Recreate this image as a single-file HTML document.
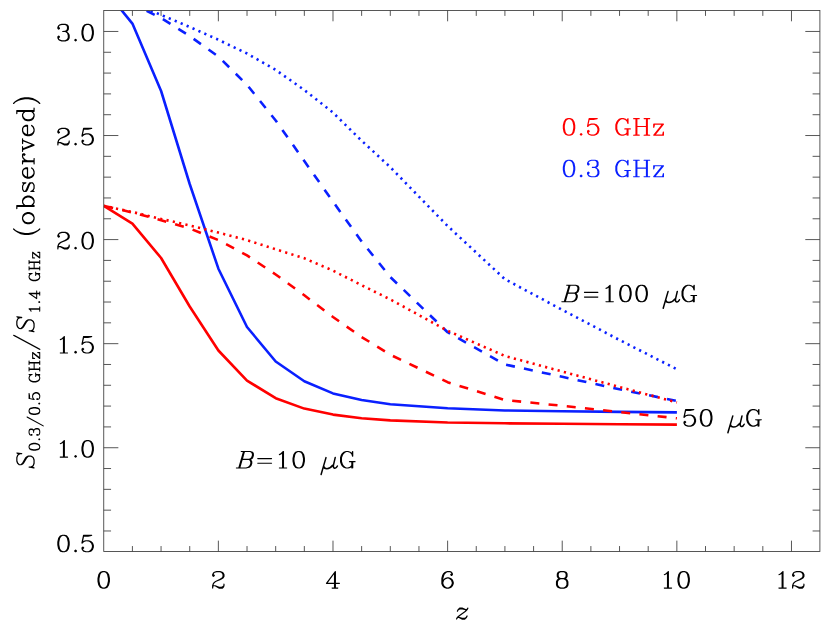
<!DOCTYPE html>
<html><head><meta charset="utf-8"><title>plot</title>
<style>html,body{margin:0;padding:0;background:#fff;}svg{display:block;}</style></head><body>
<svg width="830" height="629" viewBox="0 0 830 629">
<rect width="830" height="629" fill="#fff"/>
<defs><clipPath id="c"><rect x="103.75" y="10.5" width="716.15" height="540.95"/></clipPath></defs>
<g clip-path="url(#c)" fill="none" stroke-linejoin="round">
<path d="M103.8,-11.6 L132.4,23.6 L161.1,91.0 L189.7,184.0 L218.4,268.7 L247.0,327.0 L275.7,361.5 L304.3,381.3 L333.0,393.4 L361.6,400.0 L390.3,404.2 L447.6,408.3 L504.9,410.5 L562.2,411.3 L619.5,411.9 L676.9,412.4" stroke="#0a20ff" stroke-width="2.6"/>
<path d="M103.8,205.8 L132.4,223.6 L161.1,258.0 L189.7,306.5 L218.4,350.5 L247.0,380.6 L275.7,398.2 L304.3,408.6 L333.0,414.6 L361.6,418.2 L390.3,420.4 L447.6,422.5 L504.9,423.3 L562.2,423.8 L619.5,424.2 L676.9,424.6" stroke="#ff0000" stroke-width="2.6"/>
<path d="M103.8,-11.6 L132.4,3.8 L161.1,18.0 L189.7,36.1 L218.4,56.6 L247.0,84.8 L275.7,120.5 L304.3,161.0 L333.0,201.7 L361.6,241.4 L390.3,277.0 L447.6,332.2 L504.9,364.5 L562.2,376.8 L619.5,389.3 L676.9,401.0" stroke="#0a20ff" stroke-width="2.6" stroke-dasharray="9 9.28" stroke-dashoffset="6.5"/>
<path d="M103.8,205.8 L132.4,212.5 L161.1,220.2 L189.7,228.5 L218.4,240.1 L247.0,255.4 L275.7,274.5 L304.3,295.3 L333.0,317.0 L361.6,337.0 L390.3,354.7 L447.6,382.2 L504.9,400.0 L562.2,405.8 L619.5,412.0 L676.9,418.3" stroke="#ff0000" stroke-width="2.6" stroke-dasharray="9 9.28" stroke-dashoffset="17.7"/>
<path d="M103.8,-11.6 L132.4,3.3 L161.1,14.9 L189.7,27.0 L218.4,39.8 L247.0,53.5 L275.7,69.9 L304.3,90.0 L333.0,112.6 L361.6,140.7 L390.3,167.2 L447.6,226.0 L504.9,279.2 L562.2,309.8 L619.5,340.0 L676.9,369.3" stroke="#0a20ff" stroke-width="2.6" stroke-dasharray="2.2 4.263" stroke-dashoffset="6.06"/>
<path d="M103.8,205.8 L132.4,212.0 L161.1,218.9 L189.7,225.5 L218.4,232.6 L247.0,240.1 L275.7,249.3 L304.3,258.3 L333.0,270.6 L361.6,285.2 L390.3,299.4 L447.6,330.8 L504.9,356.0 L562.2,371.5 L619.5,387.0 L676.9,402.4" stroke="#ff0000" stroke-width="2.6" stroke-dasharray="2.2 4.277" stroke-dashoffset="0.5"/>
</g>
<g stroke="#3a3a3a" stroke-width="0.85" fill="none">
<rect x="103.75" y="10.5" width="716.15" height="540.95"/>
<path d="M132.41,551.45 v-5.4 M132.41,10.5 v5.4 M161.06,551.45 v-5.4 M161.06,10.5 v5.4 M189.72,551.45 v-5.4 M189.72,10.5 v5.4 M218.37,551.45 v-10.8 M218.37,10.5 v10.8 M247.03,551.45 v-5.4 M247.03,10.5 v5.4 M275.68,551.45 v-5.4 M275.68,10.5 v5.4 M304.34,551.45 v-5.4 M304.34,10.5 v5.4 M332.99,551.45 v-10.8 M332.99,10.5 v10.8 M361.64,551.45 v-5.4 M361.64,10.5 v5.4 M390.30,551.45 v-5.4 M390.30,10.5 v5.4 M418.96,551.45 v-5.4 M418.96,10.5 v5.4 M447.61,551.45 v-10.8 M447.61,10.5 v10.8 M476.26,551.45 v-5.4 M476.26,10.5 v5.4 M504.92,551.45 v-5.4 M504.92,10.5 v5.4 M533.58,551.45 v-5.4 M533.58,10.5 v5.4 M562.23,551.45 v-10.8 M562.23,10.5 v10.8 M590.88,551.45 v-5.4 M590.88,10.5 v5.4 M619.54,551.45 v-5.4 M619.54,10.5 v5.4 M648.20,551.45 v-5.4 M648.20,10.5 v5.4 M676.85,551.45 v-10.8 M676.85,10.5 v10.8 M705.50,551.45 v-5.4 M705.50,10.5 v5.4 M734.16,551.45 v-5.4 M734.16,10.5 v5.4 M762.82,551.45 v-5.4 M762.82,10.5 v5.4 M791.47,551.45 v-10.8 M791.47,10.5 v10.8 M103.75,530.97 h7.3 M819.9,530.97 h-7.3 M103.75,510.16 h7.3 M819.9,510.16 h-7.3 M103.75,489.35 h7.3 M819.9,489.35 h-7.3 M103.75,468.53 h7.3 M819.9,468.53 h-7.3 M103.75,447.72 h14.6 M819.9,447.72 h-14.6 M103.75,426.91 h7.3 M819.9,426.91 h-7.3 M103.75,406.09 h7.3 M819.9,406.09 h-7.3 M103.75,385.28 h7.3 M819.9,385.28 h-7.3 M103.75,364.47 h7.3 M819.9,364.47 h-7.3 M103.75,343.66 h14.6 M819.9,343.66 h-14.6 M103.75,322.84 h7.3 M819.9,322.84 h-7.3 M103.75,302.03 h7.3 M819.9,302.03 h-7.3 M103.75,281.22 h7.3 M819.9,281.22 h-7.3 M103.75,260.40 h7.3 M819.9,260.40 h-7.3 M103.75,239.59 h14.6 M819.9,239.59 h-14.6 M103.75,218.78 h7.3 M819.9,218.78 h-7.3 M103.75,197.96 h7.3 M819.9,197.96 h-7.3 M103.75,177.15 h7.3 M819.9,177.15 h-7.3 M103.75,156.34 h7.3 M819.9,156.34 h-7.3 M103.75,135.52 h14.6 M819.9,135.52 h-14.6 M103.75,114.71 h7.3 M819.9,114.71 h-7.3 M103.75,93.90 h7.3 M819.9,93.90 h-7.3 M103.75,73.09 h7.3 M819.9,73.09 h-7.3 M103.75,52.27 h7.3 M819.9,52.27 h-7.3 M103.75,31.46 h14.6 M819.9,31.46 h-14.6"/>
</g>
<path fill="#000" transform="translate(57.27,40.84) scale(0.10063,0.09825)" d="M183 -22l-6 2l-8 8l-1 4l1 4l8 8l5 2l5 -2l8 -8l1 -4l-1 -4l-8 -8zM291 -174l-23 8l-5 5l-14 21l-9 40l0 32l7 35l2 5l14 21l7 6l21 7l22 0l23 -8l5 -5l14 -21l9 -40l0 -32l-7 -35l-2 -5l-14 -21l-7 -6l-21 -7zM296 -162l15 1l11 6l7 7l7 13l8 39l0 24l-8 39l-7 13l-7 7l-14 7l-15 -1l-11 -6l-7 -7l-7 -13l-8 -39l0 -24l8 -39l7 -13l7 -7zM43 -174l-23 8l-11 10l-9 17l1 1l-1 2l1 12l8 8l5 2l5 -2l8 -8l1 -4l-1 -4l-11 -10l3 -6l7 -7l21 -7l29 0l11 5l4 4l5 11l0 20l-5 11l-4 4l-11 5l-25 1l-3 5l1 3l4 3l26 1l11 6l7 7l7 21l0 21l-7 14l-7 7l-14 7l-29 0l-21 -7l-7 -7l-3 -6l11 -10l1 -4l-1 -4l-8 -8l-5 -2l-5 2l-8 8l-1 4l1 10l-1 1l9 17l8 8l5 3l21 7l38 0l21 -7l5 -3l8 -8l9 -17l-1 -1l1 -1l0 -26l-1 -1l1 -1l-9 -17l-19 -18l1 -2l7 -2l4 -4l8 -15l-1 -1l1 -1l0 -26l-1 -1l1 -1l-8 -15l-6 -5l-21 -7z"/>
<path fill="#000" transform="translate(57.27,144.90) scale(0.10063,0.09825)" d="M183 -22l-6 2l-8 8l-1 4l1 4l8 8l5 2l5 -2l8 -8l1 -4l-1 -4l-8 -8zM261 -174l-5 4l-16 78l1 7l6 3l4 -2l15 -15l21 -7l24 1l11 6l15 15l7 21l0 14l-7 21l-15 15l-14 7l-21 0l-21 -7l-7 -7l-3 -6l11 -10l1 -4l-1 -4l-10 -9l-3 -1l-5 2l-8 8l-1 4l1 10l-1 1l9 17l8 8l5 3l21 7l30 0l21 -7l5 -3l16 -16l9 -25l0 -22l-9 -25l-19 -18l-23 -8l-30 0l-21 7l-4 3l-1 -5l9 -41l40 0l35 -7l6 -4l1 -5l-5 -4zM22 -167l-5 3l-8 8l-9 17l1 1l-1 2l1 12l8 8l5 2l3 -1l10 -9l1 -4l-1 -4l-11 -10l3 -6l7 -7l21 -7l29 0l14 7l7 7l6 11l1 15l-5 11l-6 6l-20 13l-45 22l-19 18l-9 25l0 28l3 4l3 1l3 -1l3 -4l0 -14l5 -5l11 0l41 24l34 0l4 -2l8 -8l9 -17l0 -20l-3 -4l-3 -1l-5 3l-1 16l-9 8l-11 5l-21 0l-38 -16l-17 0l-1 -2l4 -12l15 -15l13 -7l39 -15l25 -16l5 -5l8 -15l-1 -1l1 -1l0 -18l-1 -1l1 -1l-9 -17l-8 -8l-5 -3l-21 -7l-38 0z"/>
<path fill="#000" transform="translate(57.27,248.97) scale(0.10063,0.09825)" d="M183 -22l-6 2l-8 8l-1 4l1 4l8 8l5 2l5 -2l8 -8l1 -4l-1 -4l-8 -8zM291 -174l-23 8l-5 5l-14 21l-9 40l0 32l7 35l2 5l14 21l7 6l21 7l22 0l23 -8l5 -5l14 -21l9 -40l0 -32l-7 -35l-2 -5l-14 -21l-7 -6l-21 -7zM296 -162l15 1l11 6l7 7l7 13l8 39l0 24l-8 39l-7 13l-7 7l-14 7l-15 -1l-11 -6l-7 -7l-7 -13l-8 -39l0 -24l8 -39l7 -13l7 -7zM22 -167l-5 3l-8 8l-9 17l1 1l-1 2l1 12l8 8l5 2l3 -1l10 -9l1 -4l-1 -4l-11 -10l3 -6l7 -7l21 -7l29 0l14 7l7 7l6 11l1 15l-5 11l-6 6l-20 13l-45 22l-19 18l-9 25l0 28l3 4l3 1l3 -1l3 -4l0 -14l5 -5l11 0l41 24l34 0l4 -2l8 -8l9 -17l0 -20l-3 -4l-3 -1l-5 3l-1 16l-9 8l-11 5l-21 0l-38 -16l-17 0l-1 -2l4 -12l15 -15l13 -7l39 -15l25 -16l5 -5l8 -15l-1 -1l1 -1l0 -18l-1 -1l1 -1l-9 -17l-8 -8l-5 -3l-21 -7l-38 0z"/>
<path fill="#000" transform="translate(59.69,353.03) scale(0.10063,0.09825)" d="M159 -22l-6 2l-8 8l-1 4l1 4l8 8l5 2l5 -2l8 -8l1 -4l-1 -4l-8 -8zM237 -174l-5 4l-16 78l1 7l6 3l4 -2l15 -15l21 -7l24 1l11 6l15 15l7 21l0 14l-7 21l-15 15l-14 7l-21 0l-21 -7l-7 -7l-3 -6l11 -10l1 -4l-1 -4l-10 -9l-3 -1l-5 2l-8 8l-1 4l1 10l-1 1l9 17l8 8l5 3l21 7l30 0l21 -7l5 -3l16 -16l9 -25l0 -22l-9 -25l-19 -18l-23 -8l-30 0l-21 7l-4 3l-1 -5l9 -41l40 0l35 -7l6 -4l1 -5l-5 -4zM46 -174l-5 2l-23 23l-14 7l-4 6l1 3l5 3l18 -8l7 -6l1 1l0 136l-1 1l-28 1l-3 5l1 3l4 3l74 0l4 -3l1 -3l-1 -3l-4 -3l-26 0l-1 -1l0 -162l-3 -4z"/>
<path fill="#000" transform="translate(59.69,457.10) scale(0.10063,0.09825)" d="M159 -22l-6 2l-8 8l-1 4l1 4l8 8l5 2l5 -2l8 -8l1 -4l-1 -4l-8 -8zM267 -174l-23 8l-5 5l-14 21l-9 40l0 32l7 35l2 5l14 21l7 6l21 7l22 0l23 -8l5 -5l14 -21l9 -40l0 -32l-7 -35l-2 -5l-14 -21l-7 -6l-21 -7zM272 -162l15 1l11 6l7 7l7 13l8 39l0 24l-8 39l-7 13l-7 7l-14 7l-15 -1l-11 -6l-7 -7l-7 -13l-8 -39l0 -24l8 -39l7 -13l7 -7zM46 -174l-5 2l-23 23l-14 7l-4 6l1 3l5 3l18 -8l7 -6l1 1l0 136l-1 1l-28 1l-3 5l1 3l4 3l74 0l4 -3l1 -3l-1 -3l-4 -3l-26 0l-1 -1l0 -162l-3 -4z"/>
<path fill="#000" transform="translate(57.27,551.78) scale(0.10063,0.09825)" d="M183 -22l-6 2l-8 8l-1 4l1 4l8 8l5 2l5 -2l8 -8l1 -4l-1 -4l-8 -8zM261 -174l-5 4l-16 78l1 7l6 3l4 -2l15 -15l21 -7l24 1l11 6l15 15l7 21l0 14l-7 21l-15 15l-14 7l-21 0l-21 -7l-7 -7l-3 -6l11 -10l1 -4l-1 -4l-10 -9l-3 -1l-5 2l-8 8l-1 4l1 10l-1 1l9 17l8 8l5 3l21 7l30 0l21 -7l5 -3l16 -16l9 -25l0 -22l-9 -25l-19 -18l-23 -8l-30 0l-21 7l-4 3l-1 -5l9 -41l40 0l35 -7l6 -4l1 -5l-5 -4zM51 -174l-23 8l-5 5l-14 21l-9 40l0 32l7 35l2 5l14 21l7 6l21 7l22 0l23 -8l5 -5l14 -21l9 -40l0 -32l-7 -35l-2 -5l-14 -21l-7 -6l-21 -7zM56 -162l15 1l11 6l7 7l7 13l8 39l0 24l-8 39l-7 13l-7 7l-14 7l-15 -1l-11 -6l-7 -7l-7 -13l-8 -39l0 -24l8 -39l7 -13l7 -7z"/>
<path fill="#000" transform="translate(97.46,588.08) scale(0.10063,0.09825)" d="M51 -174l-23 8l-5 5l-14 21l-9 40l0 32l7 35l2 5l14 21l7 6l21 7l22 0l23 -8l5 -5l14 -21l9 -40l0 -32l-7 -35l-2 -5l-14 -21l-7 -6l-21 -7zM56 -162l15 1l11 6l7 7l7 13l8 39l0 24l-8 39l-7 13l-7 7l-14 7l-15 -1l-11 -6l-7 -7l-7 -13l-8 -39l0 -24l8 -39l7 -13l7 -7z"/>
<path fill="#000" transform="translate(212.08,588.08) scale(0.10063,0.09825)" d="M22 -167l-5 3l-8 8l-9 17l1 1l-1 2l1 12l8 8l5 2l3 -1l10 -9l1 -4l-1 -4l-11 -10l3 -6l7 -7l21 -7l29 0l14 7l7 7l6 11l1 15l-5 11l-6 6l-20 13l-45 22l-19 18l-9 25l0 28l3 4l3 1l3 -1l3 -4l0 -14l5 -5l11 0l41 24l34 0l4 -2l8 -8l9 -17l0 -20l-3 -4l-3 -1l-5 3l-1 16l-9 8l-11 5l-21 0l-38 -16l-17 0l-1 -2l4 -12l15 -15l13 -7l39 -15l25 -16l5 -5l8 -15l-1 -1l1 -1l0 -18l-1 -1l1 -1l-9 -17l-8 -8l-5 -3l-21 -7l-38 0z"/>
<path fill="#000" transform="translate(325.90,588.08) scale(0.10063,0.09825)" d="M95 -174l-6 2l-86 117l-3 7l1 3l4 3l74 0l1 1l0 34l-1 1l-20 1l-3 5l1 3l4 3l58 0l2 -1l3 -5l-3 -5l-20 -1l-1 -1l0 -34l1 -1l34 0l4 -3l1 -3l-1 -3l-4 -3l-34 0l-1 -1l0 -115zM79 -137l1 1l0 81l-1 1l-59 0l-1 -1z"/>
<path fill="#000" transform="translate(441.32,588.08) scale(0.10063,0.09825)" d="M87 -174l-28 0l-21 7l-5 3l-16 16l-9 17l-8 32l0 54l9 25l16 16l5 3l21 7l22 0l21 -7l5 -3l16 -16l9 -25l0 -14l-9 -25l-16 -16l-5 -3l-21 -7l-14 0l-23 8l-15 14l-1 -1l0 -7l7 -28l6 -13l17 -18l11 -6l23 -1l11 5l4 4l1 3l-11 10l-1 4l1 4l8 8l5 2l3 -1l10 -9l1 -13l-8 -17l-4 -4zM63 -98l5 0l11 5l18 17l7 21l0 6l-7 21l-15 15l-14 7l-12 0l-14 -7l-15 -15l-7 -21l0 -6l7 -21l15 -15z"/>
<path fill="#000" transform="translate(555.94,588.08) scale(0.10063,0.09825)" d="M43 -174l-23 8l-4 4l-8 15l1 1l-1 2l0 25l8 17l4 4l5 2l-8 4l-8 8l-9 17l1 1l-1 2l0 33l9 19l8 8l5 3l21 7l38 0l21 -7l5 -3l8 -8l9 -17l-1 -1l1 -1l0 -34l-9 -19l-8 -8l-8 -4l5 -2l4 -4l8 -15l-1 -1l1 -1l0 -26l-8 -17l-6 -5l-21 -7zM48 -90l28 0l14 7l7 7l7 14l0 28l-7 14l-7 7l-14 7l-28 0l-14 -7l-7 -7l-7 -14l0 -28l7 -14l7 -7zM33 -153l4 -4l11 -5l28 0l11 5l4 4l5 11l0 20l-5 11l-4 4l-11 5l-28 0l-11 -5l-4 -4l-5 -11l0 -20z"/>
<path fill="#000" transform="translate(663.72,588.08) scale(0.10063,0.09825)" d="M187 -174l-23 8l-5 5l-14 21l-9 40l0 32l7 35l2 5l14 21l7 6l21 7l22 0l23 -8l5 -5l14 -21l9 -40l0 -32l-7 -35l-2 -5l-14 -21l-7 -6l-21 -7zM192 -162l15 1l11 6l7 7l7 13l8 39l0 24l-8 39l-7 13l-7 7l-14 7l-15 -1l-11 -6l-7 -7l-7 -13l-8 -39l0 -24l8 -39l7 -13l7 -7zM46 -174l-5 2l-23 23l-14 7l-4 6l1 3l5 3l18 -8l7 -6l1 1l0 136l-1 1l-28 1l-3 5l1 3l4 3l74 0l4 -3l1 -3l-1 -3l-4 -3l-26 0l-1 -1l0 -162l-3 -4z"/>
<path fill="#000" transform="translate(778.34,588.08) scale(0.10063,0.09825)" d="M158 -167l-5 3l-8 8l-9 17l1 1l-1 2l1 12l8 8l5 2l3 -1l10 -9l1 -4l-1 -4l-11 -10l3 -6l7 -7l21 -7l29 0l14 7l7 7l6 11l1 15l-5 11l-6 6l-20 13l-45 22l-19 18l-9 25l0 28l3 4l3 1l3 -1l3 -4l0 -14l5 -5l11 0l41 24l34 0l4 -2l8 -8l9 -17l0 -20l-3 -4l-3 -1l-5 3l-1 16l-9 8l-11 5l-21 0l-38 -16l-17 0l-1 -2l4 -12l15 -15l13 -7l39 -15l25 -16l5 -5l8 -15l-1 -1l1 -1l0 -18l-1 -1l1 -1l-9 -17l-8 -8l-5 -3l-21 -7l-38 0zM46 -174l-5 2l-23 23l-14 7l-4 6l1 3l5 3l18 -8l7 -6l1 1l0 136l-1 1l-28 1l-3 5l1 3l4 3l74 0l4 -3l1 -3l-1 -3l-4 -3l-26 0l-1 -1l0 -162l-3 -4z"/>
<path fill="#000" transform="translate(456.00,619.08) scale(0.10063,0.09825)" d="M35 -117l-18 17l-9 17l1 6l2 2l3 1l3 -1l3 -3l5 -11l4 -4l11 -5l22 0l32 9l-6 6l-62 46l-17 17l-9 17l1 6l5 3l3 -1l10 -15l9 0l33 16l26 0l4 -2l16 -16l9 -17l-1 -6l-2 -2l-3 -1l-3 1l-3 3l-5 11l-4 4l-11 5l-22 0l-32 -9l6 -6l62 -46l17 -17l9 -17l-1 -6l-5 -3l-3 1l-10 15l-9 0l-33 -16z"/>
<path fill="#ff0000" transform="translate(562.80,135.18) scale(0.10063,0.09825)" d="M183 -22l-6 2l-8 8l-1 4l1 4l8 8l5 2l5 -2l8 -8l1 -4l-1 -4l-8 -8zM261 -174l-5 4l-16 78l1 7l6 3l4 -2l15 -15l21 -7l24 1l11 6l15 15l7 21l0 14l-7 21l-15 15l-14 7l-21 0l-21 -7l-7 -7l-3 -6l11 -10l1 -4l-1 -4l-10 -9l-3 -1l-5 2l-8 8l-1 4l1 10l-1 1l9 17l8 8l5 3l21 7l30 0l21 -7l5 -3l16 -16l9 -25l0 -22l-9 -25l-19 -18l-23 -8l-30 0l-21 7l-4 3l-1 -5l9 -41l40 0l35 -7l6 -4l1 -5l-5 -4zM51 -174l-23 8l-5 5l-14 21l-9 40l0 32l7 35l2 5l14 21l7 6l21 7l22 0l23 -8l5 -5l14 -21l9 -40l0 -32l-7 -35l-2 -5l-14 -21l-7 -6l-21 -7zM56 -162l15 1l11 6l7 7l7 13l8 39l0 24l-8 39l-7 13l-7 7l-14 7l-15 -1l-11 -6l-7 -7l-7 -13l-8 -39l0 -24l8 -39l7 -13l7 -7z"/>
<path fill="#ff0000" transform="translate(615.30,135.18) scale(0.10063,0.09825)" d="M379 -117l-3 5l0 33l3 4l3 1l6 -4l6 -26l2 -2l59 0l1 2l-80 102l1 5l4 3l98 0l2 -1l3 -4l0 -34l-3 -4l-3 -1l-6 4l-6 26l-2 2l-59 0l-1 -2l79 -100l1 -6l-5 -4l-97 0zM179 -173l-3 5l3 5l20 1l1 1l0 154l-1 1l-20 1l-3 5l1 3l4 3l58 0l4 -3l1 -3l-1 -3l-4 -3l-18 0l-1 -1l0 -74l1 -1l82 0l1 1l0 74l-1 1l-20 1l-3 5l1 3l4 3l58 0l2 -1l3 -5l-3 -5l-20 -1l-1 -1l0 -154l1 -1l18 0l4 -3l1 -3l-1 -3l-4 -3l-57 0l-5 3l-1 3l1 3l4 3l18 0l1 1l0 66l-1 1l-82 0l-1 -1l0 -66l1 -1l18 0l4 -3l1 -3l-1 -3l-4 -3l-57 0zM36 -166l-19 18l-9 17l-8 24l0 46l8 24l9 17l19 18l23 8l22 0l21 -7l9 -7l1 9l3 4l3 1l4 -2l4 2l3 -1l3 -4l0 -58l1 -1l20 -1l3 -5l-3 -5l-2 -1l-57 0l-3 1l-3 5l3 5l20 1l1 1l0 30l-14 14l-21 7l-13 0l-14 -7l-15 -15l-7 -13l-8 -24l0 -38l8 -24l7 -13l15 -15l14 -7l13 0l21 7l15 15l7 22l3 3l3 1l3 -1l3 -4l0 -50l-1 -2l-5 -3l-3 1l-4 5l-4 12l-11 -10l-23 -8l-22 0z"/>
<path fill="#0a20ff" transform="translate(562.80,176.78) scale(0.10063,0.09825)" d="M183 -22l-6 2l-8 8l-1 4l1 4l8 8l5 2l5 -2l8 -8l1 -4l-1 -4l-8 -8zM283 -174l-23 8l-11 10l-9 17l1 1l-1 2l1 12l8 8l5 2l5 -2l8 -8l1 -4l-1 -4l-11 -10l3 -6l7 -7l21 -7l29 0l11 5l4 4l5 11l0 20l-5 11l-4 4l-11 5l-25 1l-3 5l1 3l4 3l26 1l11 6l7 7l7 21l0 21l-7 14l-7 7l-14 7l-29 0l-21 -7l-7 -7l-3 -6l11 -10l1 -4l-1 -4l-8 -8l-5 -2l-5 2l-8 8l-1 4l1 10l-1 1l9 17l8 8l5 3l21 7l38 0l21 -7l5 -3l8 -8l9 -17l-1 -1l1 -1l0 -26l-1 -1l1 -1l-9 -17l-19 -18l1 -2l7 -2l4 -4l8 -15l-1 -1l1 -1l0 -26l-1 -1l1 -1l-8 -15l-6 -5l-21 -7zM51 -174l-23 8l-5 5l-14 21l-9 40l0 32l7 35l2 5l14 21l7 6l21 7l22 0l23 -8l5 -5l14 -21l9 -40l0 -32l-7 -35l-2 -5l-14 -21l-7 -6l-21 -7zM56 -162l15 1l11 6l7 7l7 13l8 39l0 24l-8 39l-7 13l-7 7l-14 7l-15 -1l-11 -6l-7 -7l-7 -13l-8 -39l0 -24l8 -39l7 -13l7 -7z"/>
<path fill="#0a20ff" transform="translate(615.30,176.78) scale(0.10063,0.09825)" d="M379 -117l-3 5l0 33l3 4l3 1l6 -4l6 -26l2 -2l59 0l1 2l-80 102l1 5l4 3l98 0l2 -1l3 -4l0 -34l-3 -4l-3 -1l-6 4l-6 26l-2 2l-59 0l-1 -2l79 -100l1 -6l-5 -4l-97 0zM179 -173l-3 5l3 5l20 1l1 1l0 154l-1 1l-20 1l-3 5l1 3l4 3l58 0l4 -3l1 -3l-1 -3l-4 -3l-18 0l-1 -1l0 -74l1 -1l82 0l1 1l0 74l-1 1l-20 1l-3 5l1 3l4 3l58 0l2 -1l3 -5l-3 -5l-20 -1l-1 -1l0 -154l1 -1l18 0l4 -3l1 -3l-1 -3l-4 -3l-57 0l-5 3l-1 3l1 3l4 3l18 0l1 1l0 66l-1 1l-82 0l-1 -1l0 -66l1 -1l18 0l4 -3l1 -3l-1 -3l-4 -3l-57 0zM36 -166l-19 18l-9 17l-8 24l0 46l8 24l9 17l19 18l23 8l22 0l21 -7l9 -7l1 9l3 4l3 1l4 -2l4 2l3 -1l3 -4l0 -58l1 -1l20 -1l3 -5l-3 -5l-2 -1l-57 0l-3 1l-3 5l3 5l20 1l1 1l0 30l-14 14l-21 7l-13 0l-14 -7l-15 -15l-7 -13l-8 -24l0 -38l8 -24l7 -13l15 -15l14 -7l13 0l21 7l15 15l7 22l3 3l3 1l3 -1l3 -4l0 -50l-1 -2l-5 -3l-3 1l-4 5l-4 12l-11 -10l-23 -8l-22 0z"/>
<path fill="#000" transform="translate(561.30,301.78) scale(0.10063,0.09825)" d="M51 -173l-3 5l1 3l4 3l15 0l1 1l-1 7l-42 146l-2 2l-21 1l-3 5l1 3l4 3l101 0l4 -2l26 -6l19 -18l9 -25l0 -20l-1 -1l1 -1l-12 -20l11 -5l8 -8l9 -25l0 -20l-1 -1l1 -1l-8 -15l-4 -4l-23 -8l-91 0zM47 -7l19 -70l3 -5l62 0l6 6l7 14l0 13l-7 21l-15 15l-21 7l-53 0zM72 -95l16 -59l4 -8l48 0l11 5l4 4l5 11l0 13l-7 21l-7 7l-14 7l-59 0z"/>
<path fill="#000" transform="translate(583.90,301.78) scale(0.09299,0.09825)" d="M0 -48l1 3l4 3l146 0l4 -3l1 -3l-1 -3l-4 -3l-145 0l-3 1zM0 -96l1 3l4 3l146 0l4 -3l1 -3l-1 -3l-4 -3l-145 0l-3 1z"/>
<path fill="#000" transform="translate(605.40,301.78) scale(0.10119,0.09825)" d="M347 -174l-23 8l-5 5l-14 21l-9 40l0 32l7 35l2 5l14 21l7 6l21 7l22 0l23 -8l5 -5l14 -21l9 -40l0 -32l-7 -35l-2 -5l-14 -21l-7 -6l-21 -7zM352 -162l15 1l11 6l7 7l7 13l8 39l0 24l-8 39l-7 13l-7 7l-14 7l-15 -1l-11 -6l-7 -7l-7 -13l-8 -39l0 -24l8 -39l7 -13l7 -7zM187 -174l-23 8l-5 5l-14 21l-9 40l0 32l7 35l2 5l14 21l7 6l21 7l22 0l23 -8l5 -5l14 -21l9 -40l0 -32l-7 -35l-2 -5l-14 -21l-7 -6l-21 -7zM192 -162l15 1l11 6l7 7l7 13l8 39l0 24l-8 39l-7 13l-7 7l-14 7l-15 -1l-11 -6l-7 -7l-7 -13l-8 -39l0 -24l8 -39l7 -13l7 -7zM46 -174l-5 2l-23 23l-14 7l-4 6l1 3l5 3l18 -8l7 -6l1 1l0 136l-1 1l-28 1l-3 5l1 3l4 3l74 0l4 -3l1 -3l-1 -3l-4 -3l-26 0l-1 -1l0 -162l-3 -4z"/>
<path transform="translate(662.3,302.7)" fill="none" stroke="#000" stroke-width="1.5" stroke-linecap="round" stroke-linejoin="round" d="M5.8,-11.3 L0.9,5.6 M3.4,-3 C3.6,0.6 9,1.2 12.4,-3.6 M15,-11.3 L13.2,-3.5 C12.7,-0.3 15.6,0.6 17.2,-2.9"/>
<path fill="#000" transform="translate(681.50,301.78) scale(0.10063,0.09825)" d="M36 -166l-19 18l-9 17l-8 24l0 46l8 24l9 17l19 18l23 8l22 0l21 -7l9 -7l1 9l3 4l3 1l4 -2l4 2l3 -1l3 -4l0 -58l1 -1l20 -1l3 -5l-3 -5l-2 -1l-57 0l-3 1l-3 5l3 5l20 1l1 1l0 30l-14 14l-21 7l-13 0l-14 -7l-15 -15l-7 -13l-8 -24l0 -38l8 -24l7 -13l15 -15l14 -7l13 0l21 7l15 15l7 22l3 3l3 1l3 -1l3 -4l0 -50l-1 -2l-5 -3l-3 1l-4 5l-4 12l-11 -10l-23 -8l-22 0z"/>
<path fill="#000" transform="translate(235.80,467.98) scale(0.10063,0.09825)" d="M51 -173l-3 5l1 3l4 3l15 0l1 1l-1 7l-42 146l-2 2l-21 1l-3 5l1 3l4 3l101 0l4 -2l26 -6l19 -18l9 -25l0 -20l-1 -1l1 -1l-12 -20l11 -5l8 -8l9 -25l0 -20l-1 -1l1 -1l-8 -15l-4 -4l-23 -8l-91 0zM47 -7l19 -70l3 -5l62 0l6 6l7 14l0 13l-7 21l-15 15l-21 7l-53 0zM72 -95l16 -59l4 -8l48 0l11 5l4 4l5 11l0 13l-7 21l-7 7l-14 7l-59 0z"/>
<path fill="#000" transform="translate(257.20,467.98) scale(0.09554,0.09825)" d="M0 -48l1 3l4 3l146 0l4 -3l1 -3l-1 -3l-4 -3l-145 0l-3 1zM0 -96l1 3l4 3l146 0l4 -3l1 -3l-1 -3l-4 -3l-145 0l-3 1z"/>
<path fill="#000" transform="translate(278.80,467.98) scale(0.10063,0.09825)" d="M187 -174l-23 8l-5 5l-14 21l-9 40l0 32l7 35l2 5l14 21l7 6l21 7l22 0l23 -8l5 -5l14 -21l9 -40l0 -32l-7 -35l-2 -5l-14 -21l-7 -6l-21 -7zM192 -162l15 1l11 6l7 7l7 13l8 39l0 24l-8 39l-7 13l-7 7l-14 7l-15 -1l-11 -6l-7 -7l-7 -13l-8 -39l0 -24l8 -39l7 -13l7 -7zM46 -174l-5 2l-23 23l-14 7l-4 6l1 3l5 3l18 -8l7 -6l1 1l0 136l-1 1l-28 1l-3 5l1 3l4 3l74 0l4 -3l1 -3l-1 -3l-4 -3l-26 0l-1 -1l0 -162l-3 -4z"/>
<path transform="translate(320.2,468.9)" fill="none" stroke="#000" stroke-width="1.5" stroke-linecap="round" stroke-linejoin="round" d="M5.8,-11.3 L0.9,5.6 M3.4,-3 C3.6,0.6 9,1.2 12.4,-3.6 M15,-11.3 L13.2,-3.5 C12.7,-0.3 15.6,0.6 17.2,-2.9"/>
<path fill="#000" transform="translate(340.00,467.98) scale(0.10063,0.09825)" d="M36 -166l-19 18l-9 17l-8 24l0 46l8 24l9 17l19 18l23 8l22 0l21 -7l9 -7l1 9l3 4l3 1l4 -2l4 2l3 -1l3 -4l0 -58l1 -1l20 -1l3 -5l-3 -5l-2 -1l-57 0l-3 1l-3 5l3 5l20 1l1 1l0 30l-14 14l-21 7l-13 0l-14 -7l-15 -15l-7 -13l-8 -24l0 -38l8 -24l7 -13l15 -15l14 -7l13 0l21 7l15 15l7 22l3 3l3 1l3 -1l3 -4l0 -50l-1 -2l-5 -3l-3 1l-4 5l-4 12l-11 -10l-23 -8l-22 0z"/>
<path fill="#000" transform="translate(683.40,426.08) scale(0.10246,0.09825)" d="M211 -174l-23 8l-5 5l-14 21l-9 40l0 32l7 35l2 5l14 21l7 6l21 7l22 0l23 -8l5 -5l14 -21l9 -40l0 -32l-7 -35l-2 -5l-14 -21l-7 -6l-21 -7zM216 -162l15 1l11 6l7 7l7 13l8 39l0 24l-8 39l-7 13l-7 7l-14 7l-15 -1l-11 -6l-7 -7l-7 -13l-8 -39l0 -24l8 -39l7 -13l7 -7zM21 -174l-5 4l-16 78l1 7l6 3l4 -2l15 -15l21 -7l24 1l11 6l15 15l7 21l0 14l-7 21l-15 15l-14 7l-21 0l-21 -7l-7 -7l-3 -6l11 -10l1 -4l-1 -4l-10 -9l-3 -1l-5 2l-8 8l-1 4l1 10l-1 1l9 17l8 8l5 3l21 7l30 0l21 -7l5 -3l16 -16l9 -25l0 -22l-9 -25l-19 -18l-23 -8l-30 0l-21 7l-4 3l-1 -5l9 -41l40 0l35 -7l6 -4l1 -5l-5 -4z"/>
<path transform="translate(727.0,427.2)" fill="none" stroke="#000" stroke-width="1.5" stroke-linecap="round" stroke-linejoin="round" d="M5.8,-11.3 L0.9,5.6 M3.4,-3 C3.6,0.6 9,1.2 12.4,-3.6 M15,-11.3 L13.2,-3.5 C12.7,-0.3 15.6,0.6 17.2,-2.9"/>
<path fill="#000" transform="translate(746.20,426.08) scale(0.10063,0.09825)" d="M36 -166l-19 18l-9 17l-8 24l0 46l8 24l9 17l19 18l23 8l22 0l21 -7l9 -7l1 9l3 4l3 1l4 -2l4 2l3 -1l3 -4l0 -58l1 -1l20 -1l3 -5l-3 -5l-2 -1l-57 0l-3 1l-3 5l3 5l20 1l1 1l0 30l-14 14l-21 7l-13 0l-14 -7l-15 -15l-7 -13l-8 -24l0 -38l8 -24l7 -13l15 -15l14 -7l13 0l21 7l15 15l7 22l3 3l3 1l3 -1l3 -4l0 -50l-1 -2l-5 -3l-3 1l-4 5l-4 12l-11 -10l-23 -8l-22 0z"/>
<path fill="#000" transform="translate(34.06,468.50) rotate(-90) scale(0.09825,0.10250)" d="M161 -173l-3 -1l-3 1l-10 15l-9 -8l-23 -8l-38 0l-23 8l-19 18l-1 23l9 17l12 11l52 29l15 15l0 19l-5 11l-9 10l-21 7l-30 0l-21 -7l-7 -7l-7 -14l0 -15l-3 -4l-3 -1l-3 1l-4 6l0 6l-7 37l0 4l3 5l3 1l3 -1l10 -15l9 8l23 8l38 0l23 -8l11 -10l9 -17l-1 -1l1 -1l0 -28l-9 -17l-12 -11l-52 -29l-15 -15l0 -10l14 -14l21 -7l30 0l21 7l7 7l7 14l0 15l3 4l3 1l3 -1l4 -6l0 -6l7 -37l0 -4z"/>
<path fill="#000" transform="translate(39.74,450.80) rotate(-90) scale(0.06222,0.06355)" d="M757 -24l-11 10l-2 4l0 4l2 4l8 8l4 2l4 0l4 -2l8 -8l2 -4l0 -4l-2 -4l-11 -10zM181 -24l-11 10l-2 4l0 4l2 4l8 8l4 2l4 0l4 -2l8 -8l2 -4l0 -4l-2 -4l-11 -10zM837 -176l-5 5l-1 8l-15 71l0 7l5 5l6 0l20 -18l19 -6l20 0l12 6l15 15l7 21l0 12l-7 21l-15 15l-12 6l-20 0l-21 -7l-7 -7l-1 -3l9 -9l2 -4l0 -4l-2 -4l-8 -8l-4 -2l-4 0l-4 2l-8 8l-2 4l0 13l8 16l10 11l27 10l31 0l3 -2l20 -6l21 -21l8 -24l0 -22l-10 -27l-19 -18l-20 -6l-3 -2l-31 0l-22 8l-2 -1l7 -35l2 -4l38 0l31 -7l8 -1l5 -5l0 -6l-5 -5zM285 -176l-24 8l-11 10l-10 19l0 13l2 4l8 8l4 2l4 0l4 -2l8 -8l2 -4l0 -4l-2 -4l-9 -9l1 -3l7 -7l21 -7l28 0l10 5l3 3l5 10l0 20l-5 10l-3 3l-10 5l-24 0l-5 4l-1 6l6 6l24 0l12 6l7 7l7 21l0 20l-6 12l-8 8l-12 6l-28 0l-19 -6l-9 -8l-1 -3l9 -9l2 -4l0 -4l-2 -4l-8 -8l-4 -2l-4 0l-4 2l-8 8l-2 4l0 13l10 19l11 10l24 8l39 0l26 -10l8 -8l10 -19l0 -30l-10 -19l-16 -16l5 -2l5 -5l8 -16l0 -30l-8 -16l-5 -5l-20 -6l-3 -2zM632 -177l-27 9l-4 3l-16 24l-9 41l0 32l7 31l0 5l2 5l16 24l4 3l20 6l3 2l24 0l3 -2l20 -6l4 -3l16 -24l9 -41l0 -32l-7 -31l0 -5l-2 -5l-16 -24l-4 -3l-20 -6l-3 -2l-19 0zM634 -160l12 0l12 6l8 8l7 15l7 36l0 22l-8 39l-6 12l-8 8l-12 6l-12 0l-12 -6l-8 -8l-7 -15l-7 -36l0 -22l8 -39l6 -12l8 -8zM56 -177l-27 9l-4 3l-16 24l-9 41l0 32l7 31l0 5l2 5l16 24l4 3l20 6l3 2l24 0l3 -2l20 -6l4 -3l16 -24l9 -41l0 -32l-7 -31l0 -5l-2 -5l-16 -24l-4 -3l-20 -6l-3 -2l-19 0zM58 -160l12 0l12 6l8 8l7 15l7 36l0 22l-8 39l-6 12l-8 8l-12 6l-12 0l-12 -6l-8 -8l-7 -15l-7 -36l0 -22l8 -39l6 -12l8 -8zM548 -207l-2 -1l-6 1l-7 9l-140 249l-1 7l4 5l2 1l6 -1l7 -9l140 -249l1 -7z"/>
<path fill="#000" transform="translate(39.74,382.60) rotate(-90) scale(0.06278,0.06355)" d="M380 -119l-4 5l0 36l6 6l4 0l5 -4l8 -28l54 0l1 2l-77 97l-1 8l5 5l101 0l2 -1l4 -5l0 -36l-6 -6l-4 0l-5 4l-8 28l-54 0l-1 -2l77 -97l1 -8l-5 -5l-101 0zM180 -175l-4 5l0 4l4 5l20 2l0 150l-20 2l-4 5l1 6l5 4l60 0l5 -4l1 -6l-4 -5l-20 -2l0 -70l1 -1l78 0l1 1l0 70l-20 2l-4 5l1 6l5 4l60 0l2 -1l4 -5l0 -4l-4 -5l-20 -2l0 -150l20 -2l4 -5l-1 -6l-5 -4l-60 0l-5 4l-1 6l4 5l20 2l0 62l-1 1l-78 0l-1 -1l0 -62l20 -2l4 -5l-1 -6l-5 -4l-60 0zM37 -168l-21 21l-8 16l-8 24l0 46l8 24l8 16l21 21l20 6l3 2l23 0l24 -8l4 -3l2 7l5 4l14 -1l4 -5l0 -57l20 -2l4 -5l-1 -6l-5 -4l-60 0l-2 1l-4 5l0 4l4 5l20 2l0 27l-15 14l-19 6l-12 0l-12 -6l-16 -16l-6 -12l-8 -24l0 -36l6 -19l8 -17l16 -16l12 -6l12 0l21 7l14 14l7 22l6 5l6 -1l4 -5l0 -52l-1 -2l-5 -4l-6 1l-4 4l-4 11l-9 -8l-24 -8l-23 0l-3 2z"/>
<path fill="#000" transform="translate(34.06,350.00) rotate(-90) scale(0.09825,0.10250)" d="M153 -205l-3 -1l-3 1l-8 11l-135 240l-4 10l3 5l3 1l3 -1l8 -11l135 -240l4 -10z"/>
<path fill="#000" transform="translate(34.06,332.30) rotate(-90) scale(0.09825,0.10250)" d="M161 -173l-3 -1l-3 1l-10 15l-9 -8l-23 -8l-38 0l-23 8l-19 18l-1 23l9 17l12 11l52 29l15 15l0 19l-5 11l-9 10l-21 7l-30 0l-21 -7l-7 -7l-7 -14l0 -15l-3 -4l-3 -1l-3 1l-4 6l0 6l-7 37l0 4l3 5l3 1l3 -1l10 -15l9 8l23 8l38 0l23 -8l11 -10l9 -17l-1 -1l1 -1l0 -28l-9 -17l-12 -11l-52 -29l-15 -15l0 -10l14 -14l21 -7l30 0l21 7l7 7l7 14l0 15l3 4l3 1l3 -1l4 -6l0 -6l7 -37l0 -4z"/>
<path fill="#000" transform="translate(39.74,311.70) rotate(-90) scale(0.06042,0.06355)" d="M157 -24l-11 10l-2 4l0 4l2 4l8 8l4 2l4 0l4 -2l8 -8l2 -4l0 -4l-2 -4l-11 -10zM884 -119l-4 5l0 36l6 6l4 0l5 -4l8 -28l54 0l1 2l-77 97l-1 8l5 5l101 0l2 -1l4 -5l0 -36l-6 -6l-4 0l-5 4l-8 28l-54 0l-1 -2l77 -97l1 -8l-5 -5l-101 0zM684 -175l-4 5l0 4l4 5l20 2l0 150l-20 2l-4 5l1 6l5 4l60 0l5 -4l1 -6l-4 -5l-20 -2l0 -70l1 -1l78 0l1 1l0 70l-20 2l-4 5l1 6l5 4l60 0l2 -1l4 -5l0 -4l-4 -5l-20 -2l0 -150l20 -2l4 -5l-1 -6l-5 -4l-60 0l-5 4l-1 6l4 5l20 2l0 62l-1 1l-78 0l-1 -1l0 -62l20 -2l4 -5l-1 -6l-5 -4l-60 0zM541 -168l-21 21l-8 16l-8 24l0 46l8 24l8 16l21 21l20 6l3 2l23 0l24 -8l4 -3l2 7l5 4l14 -1l4 -5l0 -57l20 -2l4 -5l-1 -6l-5 -4l-60 0l-2 1l-4 5l0 4l4 5l20 2l0 27l-15 14l-19 6l-12 0l-12 -6l-16 -16l-6 -12l-8 -24l0 -36l6 -19l8 -17l16 -16l12 -6l12 0l21 7l14 14l7 22l6 5l6 -1l4 -5l0 -52l-1 -2l-5 -4l-6 1l-4 4l-4 11l-9 -8l-24 -8l-23 0l-3 2zM307 -176l-6 0l-4 3l-88 120l-1 3l1 6l5 4l73 0l1 1l0 30l-20 2l-4 5l0 4l6 6l60 0l2 -1l4 -5l0 -4l-4 -5l-20 -2l0 -30l1 -1l33 0l6 -6l-1 -6l-5 -4l-33 0l-1 -1l0 -114zM287 -131l1 1l0 73l-1 1l-53 0l-1 -1zM50 -176l-4 0l-4 2l-24 24l-13 6l-5 6l1 6l5 4l5 0l20 -11l1 1l0 129l-1 1l-25 0l-2 1l-4 5l0 4l6 6l76 0l6 -6l-1 -6l-5 -4l-25 0l-1 -1l0 -161z"/>
<path fill="#000" transform="translate(34.06,235.00) rotate(-90) scale(0.09825,0.10250)" d="M62 -206l-5 2l-17 17l-15 23l-17 33l-8 39l0 40l8 38l17 34l15 23l17 17l5 2l5 -3l1 -3l-1 -4l-16 -16l-15 -29l-8 -24l-8 -39l0 -32l8 -39l8 -24l13 -26l18 -19l1 -4l-1 -3z"/>
<path fill="#000" transform="translate(34.06,224.30) rotate(-90) scale(0.09825,0.10250)" d="M947 -118l-23 8l-19 18l-9 25l0 22l9 25l16 16l5 3l21 7l22 0l21 -7l5 -3l16 -16l1 -4l-1 -3l-5 -3l-5 2l-15 15l-21 7l-13 0l-14 -7l-15 -15l-7 -21l0 -8l1 -1l90 0l5 -5l0 -18l-9 -19l-11 -10l-17 -8zM919 -72l4 -12l15 -15l14 -7l23 1l8 4l4 4l5 11l0 15l-1 1l-71 0zM739 -117l-3 5l3 5l14 1l2 2l43 102l5 7l2 1l4 -1l5 -7l43 -102l2 -2l14 -1l3 -5l-1 -3l-4 -3l-49 0l-5 3l-1 3l1 3l4 3l22 0l1 2l-33 77l-2 1l-33 -77l1 -3l16 -1l3 -5l-1 -3l-4 -3l-49 0zM611 -117l-3 5l3 5l20 1l1 1l0 98l-1 1l-20 1l-3 5l1 3l4 3l58 0l4 -3l1 -3l-3 -5l-20 -1l-1 -1l0 -56l7 -21l18 -17l11 -5l13 0l1 1l-5 5l-1 4l1 4l8 8l5 2l3 -1l10 -9l1 -3l-1 -13l-8 -8l-4 -2l-25 0l-18 8l-15 14l-1 -1l0 -17l-5 -4l-33 0zM515 -118l-23 8l-19 18l-9 25l0 22l9 25l16 16l5 3l21 7l22 0l21 -7l5 -3l16 -16l1 -4l-1 -3l-5 -3l-5 2l-15 15l-21 7l-13 0l-14 -7l-15 -15l-7 -21l0 -8l1 -1l90 0l5 -5l0 -18l-9 -19l-11 -10l-17 -8zM487 -72l4 -12l15 -15l14 -7l23 1l8 4l4 4l5 11l0 15l-1 1l-71 0zM354 -117l-17 9l-8 8l-1 4l1 20l8 8l18 10l35 13l17 8l9 8l0 10l-9 8l-11 5l-28 0l-14 -7l-7 -7l-7 -14l-6 -4l-3 1l-3 5l0 33l3 4l3 1l3 -1l7 -10l21 11l34 0l20 -10l8 -8l1 -3l-1 -29l-8 -8l-18 -10l-35 -13l-17 -8l-9 -8l0 -2l9 -8l11 -5l28 0l14 7l7 7l7 14l6 4l3 -1l3 -4l0 -34l-3 -4l-3 -1l-3 1l-7 10l-21 -11zM51 -118l-23 8l-19 18l-9 25l0 22l9 25l16 16l5 3l21 7l22 0l23 -8l19 -18l9 -25l0 -22l-9 -25l-16 -16l-5 -3l-21 -7zM56 -106l12 0l14 7l15 15l7 21l0 14l-7 21l-15 15l-14 7l-12 0l-14 -7l-15 -15l-7 -21l0 -14l7 -21l15 -15zM1126 -174l-3 1l-3 5l3 5l20 1l1 1l0 56l-1 1l-7 -6l-17 -8l-20 0l-23 8l-19 18l-9 25l0 22l9 25l16 16l5 3l21 7l20 0l17 -8l7 -6l1 9l5 5l34 0l4 -3l1 -3l-3 -5l-20 -1l-1 -1l0 -163l-5 -4zM1104 -106l12 0l11 5l17 16l0 58l-14 14l-14 7l-12 0l-14 -7l-15 -15l-7 -21l0 -14l7 -21l15 -15zM155 -173l-3 5l3 5l20 1l1 1l0 162l1 2l5 3l4 -2l4 2l3 -1l3 -4l1 -9l7 6l17 8l20 0l23 -8l19 -18l9 -25l0 -22l-9 -25l-19 -18l-23 -8l-23 1l-14 7l-7 6l-1 -1l0 -65l-5 -4l-33 0zM224 -106l12 0l14 7l15 15l7 21l0 14l-7 21l-15 15l-14 7l-12 0l-11 -5l-17 -16l0 -58l14 -14z"/>
<path fill="#000" transform="translate(34.06,104.00) rotate(-90) scale(0.09825,0.10250)" d="M6 -206l-5 3l-1 3l1 4l16 16l15 29l8 24l8 39l0 32l-8 39l-8 24l-13 26l-18 19l-1 4l1 3l5 3l5 -2l17 -17l15 -23l17 -33l8 -39l0 -40l-8 -39l-17 -33l-15 -23l-17 -17z"/>
</svg></body></html>
